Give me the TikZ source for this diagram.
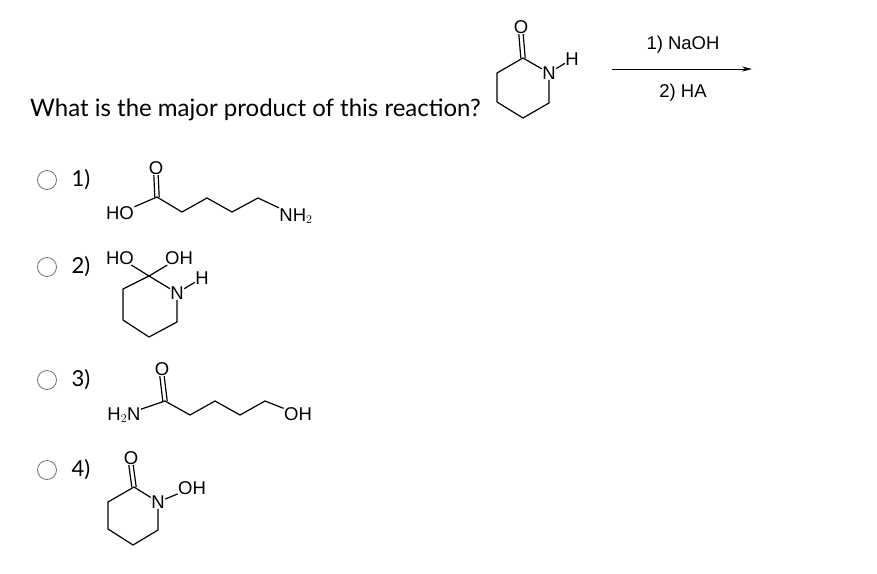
\documentclass[tikz,border=0pt]{standalone}
\usepackage{fontspec}
\setmainfont{Lato}
\newfontfamily\chem{Liberation Sans}
\usetikzlibrary{arrows.meta}
\begin{document}
\begin{tikzpicture}[x=1pt,y=-1pt,
 bond/.style={line width=1.2pt,line join=round},
 atom/.style={font=\chem\fontsize{18.5}{18.5}\selectfont,inner sep=0.3pt},
 radio/.style={circle,draw=black!55,line width=0.8pt,minimum size=19pt,inner sep=0},
 num/.style={font=\fontsize{22}{22}\selectfont,anchor=west}]
\useasboundingbox (0,0) rectangle (877,573);
% top
\node[font=\fontsize{24}{24}\selectfont,anchor=west,inner sep=0] (q) at (30,110) {What is the major product of this reaction?};
\node[atom] (tO) at (521,27) {O};
\node[atom] (tN) at (549,73) {N};
\node[atom] (tH) at (572,59) {H};
\coordinate (t2) at (523,58); \coordinate (t3) at (497,73); \coordinate (t4) at (497,102);
\coordinate (t5) at (523,118); \coordinate (t6) at (549,103);
\draw[bond] (tN) -- (t2) -- (t3) -- (t4) -- (t5) -- (t6) -- (tN);
\draw[bond] (tN) -- (tH);
\draw[bond] ([xshift=-2.2]t2) -- ([xshift=-2.2]tO.south); \draw[bond] ([xshift=2.2]t2) -- ([xshift=2.2]tO.south);
\coordinate (a1) at (612,69); \coordinate (a2) at (752,69);
\draw[line width=0.9pt,-{Stealth[length=10pt,width=5pt]}] (a1) -- (a2);
\node[atom] (r1) at (683,45) {1) NaOH};
\node[atom] (r2) at (683,93) {2) HA};
% radios
\foreach \y/\n in {180/1,267/2,380/3,470/4}{
 \node[radio] (c\n) at (47,\y) {};
 \node[num] (l\n) at (68,\y) {\n)};
}
% option 1
\node[atom] (aHO) at (120,213) {HO};
\node[atom] (aO) at (156,168) {O};
\node[atom] (aN) at (296,216) {NH$_2$};
\coordinate (ac1) at (157,197); \coordinate (ac2) at (182,212); \coordinate (ac3) at (207,198);
\coordinate (ac4) at (232,212); \coordinate (ac5) at (258,198);
\draw[bond] (aHO) -- (ac1) -- (ac2) -- (ac3) -- (ac4) -- (ac5) -- (aN.north west);
\draw[bond] ([xshift=-2.2]ac1) -- ([xshift=-2.2]aO.south); \draw[bond] ([xshift=2.2]ac1) -- ([xshift=2.2]aO.south);
% option 2
\node[atom] (bHO) at (120,258) {HO};
\node[atom] (bOH) at (179,258) {OH};
\node[atom] (bN) at (177,293) {N};
\node[atom] (bH) at (202,278) {H};
\coordinate (b2) at (149,276); \coordinate (b3) at (123,289); \coordinate (b4) at (123,320);
\coordinate (b5) at (149,337); \coordinate (b6) at (177,322);
\draw[bond] (bN) -- (b2) -- (b3) -- (b4) -- (b5) -- (b6) -- (bN);
\draw[bond] (bN) -- (bH);
\draw[bond] (bHO) -- (b2) -- (bOH);
% option 3
\node[atom] (cN) at (124,415) {H$_2$N};
\node[atom] (cO) at (162,369) {O};
\node[atom] (cOH) at (298,414) {OH};
\coordinate (cc1) at (165,401); \coordinate (cc2) at (190,415); \coordinate (cc3) at (215,401);
\coordinate (cc4) at (240,415); \coordinate (cc5) at (265,401);
\draw[bond] (cN) -- (cc1) -- (cc2) -- (cc3) -- (cc4) -- (cc5) -- (cOH);
\draw[bond] ([xshift=-2.2]cc1) -- ([xshift=-2.2]cO.south); \draw[bond] ([xshift=2.2]cc1) -- ([xshift=2.2]cO.south);
% option 4
\node[atom] (dO) at (131,458) {O};
\node[atom] (dN) at (158,502) {N};
\node[atom] (dOH) at (192,488) {OH};
\coordinate (d2) at (134,487); \coordinate (d3) at (108,502); \coordinate (d4) at (108,529);
\coordinate (d5) at (133,545); \coordinate (d6) at (158,530);
\draw[bond] (dN) -- (d2) -- (d3) -- (d4) -- (d5) -- (d6) -- (dN);
\draw[bond] (dN) -- (dOH);
\draw[bond] ([xshift=-2.2]d2) -- ([xshift=-2.2]dO.south); \draw[bond] ([xshift=2.2]d2) -- ([xshift=2.2]dO.south);
\end{tikzpicture}
\end{document}
